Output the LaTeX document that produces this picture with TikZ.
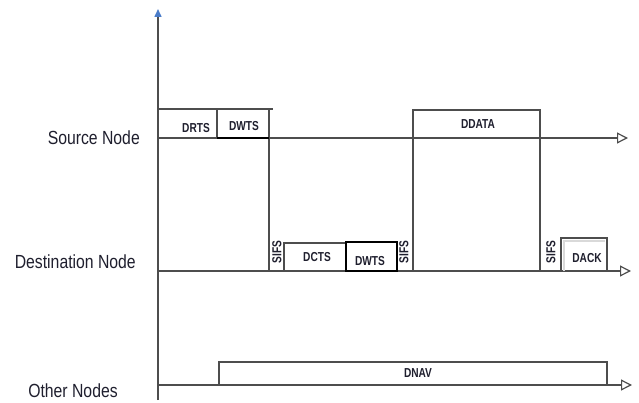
\documentclass[tikz,border=0pt]{standalone}
\usepackage{fontspec}
\setmainfont{Liberation Sans}
\newfontfamily\lblfont[FakeStretch=0.83]{Liberation Sans}
\newfontfamily\boxfont[FakeStretch=0.78]{Liberation Sans}
\usetikzlibrary{arrows.meta}
\definecolor{linegray}{HTML}{4D4D4D}
\definecolor{axisblue}{HTML}{4A7CC9}
\definecolor{txt}{HTML}{1F1F2E}
\tikzset{
  tl/.style={draw=linegray, line width=1.5pt},
  thickblk/.style={draw=black, line width=2.2pt},
  tarrow/.style={tl, -{Triangle[open,length=11pt,width=11pt,fill=white,line width=1.2pt]}},
  rowlabel/.style={font=\lblfont\fontsize{19}{21}\selectfont, text=txt, inner sep=0pt},
  boxlabel/.style={font=\boxfont\bfseries\fontsize{13}{15}\selectfont, text=txt, inner sep=0pt},
  sifs/.style={boxlabel, rotate=90}
}
\begin{document}
\begin{tikzpicture}[x=1pt,y=-1pt]
\useasboundingbox[fill=white] (0,0) rectangle (639,403);
% axis
\coordinate (axb) at (158,400);
\coordinate (axt) at (158,9);
\draw[tl, -{Triangle[length=8pt,width=7pt,color=axisblue]}] (axb) -- (axt);
% time lines
\coordinate (s0) at (158,138); \coordinate (s1) at (628,138);
\coordinate (d0) at (158,271); \coordinate (d1) at (631,271);
\coordinate (o0) at (158,385); \coordinate (o1) at (632,385);
\draw[tarrow] (s0) -- (s1);
\draw[tarrow] (d0) -- (d1);
\draw[tarrow] (o0) -- (o1);
% DRTS / DWTS at source
\draw[tl] (158,109) -- (273,109);
\draw[tl] (217,109) -- (217,138);
\draw[tl] (269,109) -- (269,271);
\draw[thickblk] (217,138) -- (269,138);
% DCTS / DWTS at destination
\draw[tl] (284,271) -- (284,243) -- (346,243);
\draw[thickblk] (346,271) rectangle (397,242);
\draw[tl] (413,271) -- (413,110) -- (540,110) -- (540,271);
% DACK
\draw[draw=black!15, line width=1.5pt] (564,271) -- (564,241) -- (605,241);
\draw[tl] (561,271) -- (561,238) -- (607,238) -- (607,271);
% DNAV
\draw[tl] (219,385) -- (219,362) -- (607,362) -- (607,385);
% row labels
\node[rowlabel, anchor=east] (src) at (140,138) {Source Node};
\node[rowlabel, anchor=east] (dst) at (136,262) {Destination Node};
\node[rowlabel] (oth) at (73,391) {Other Nodes};
% box labels
\node[boxlabel] (drts) at (196,128) {DRTS};
\node[boxlabel] (dwts1) at (244,126) {DWTS};
\node[boxlabel] (dcts) at (317,257) {DCTS};
\node[boxlabel] (dwts2) at (370,261) {DWTS};
\node[boxlabel] (ddata) at (478,124) {DDATA};
\node[boxlabel] (dack) at (587,258) {DACK};
\node[boxlabel] (dnav) at (418,373) {DNAV};
\node[sifs] (sifs1) at (277,252) {SIFS};
\node[sifs] (sifs2) at (404,252) {SIFS};
\node[sifs] (sifs3) at (551,252) {SIFS};
\end{tikzpicture}
\end{document}
